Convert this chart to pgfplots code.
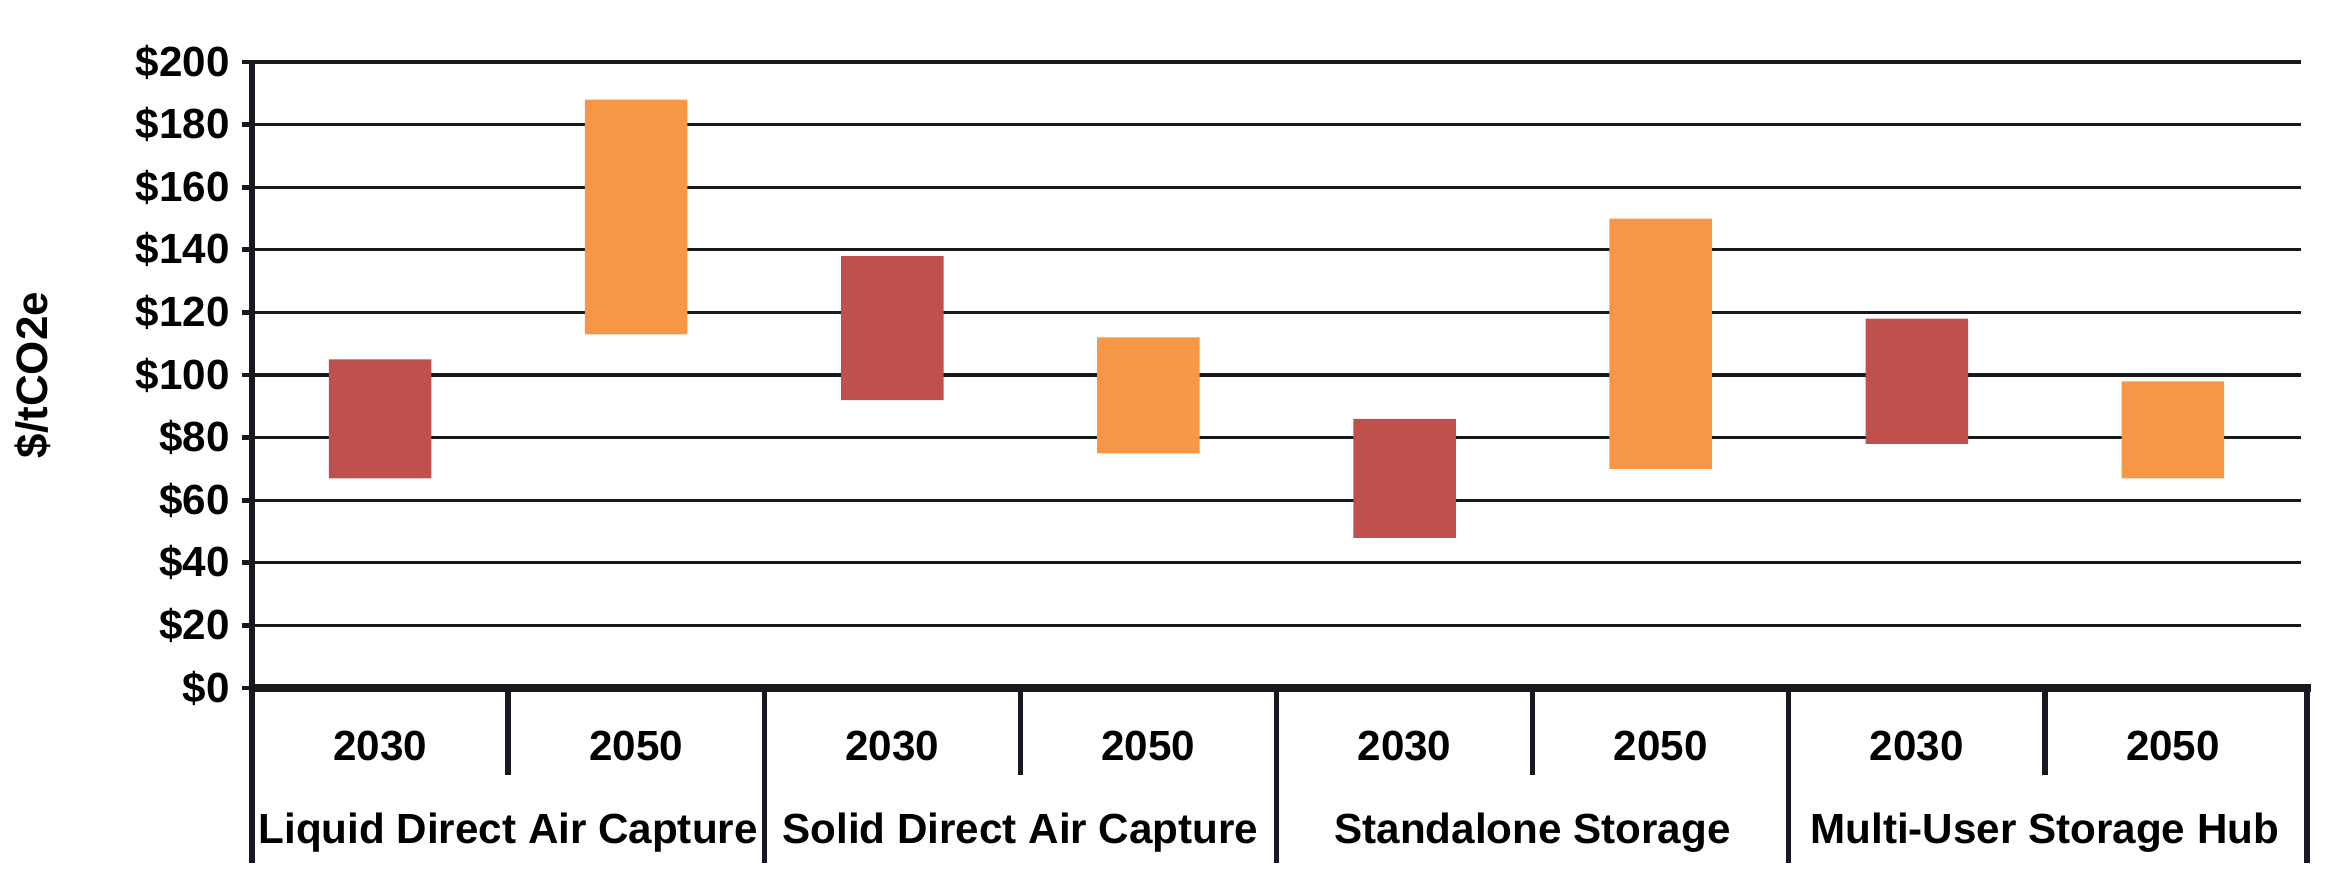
\documentclass[border=0pt]{standalone}
\usepackage{fontspec}
\setmainfont{Liberation Sans}
\usepackage{pgfplots}
\usepackage{pgfplotstable}
\pgfplotsset{compat=1.18}
\definecolor{axcol}{HTML}{18181F}
\definecolor{barred}{HTML}{C0504D}
\definecolor{barorange}{HTML}{F79646}

% x, low end, length of 2030 range, length of 2050 range
\pgfplotstableread{
x    low  len30 len50
0.5  67   38    0
1.5  113  0     75
2.5  92   46    0
3.5  75   0     37
4.5  48   38    0
5.5  70   0     80
6.5  78   40    0
7.5  67   0     31
}\ranges

\begin{document}
\begin{tikzpicture}
\useasboundingbox (0,0) rectangle (23.25cm,8.94cm);
\begin{axis}[
  at={(2.52cm,2.06cm)}, anchor=south west,
  scale only axis, width=20.49cm, height=6.26cm,
  xmin=0, xmax=8, ymin=0, ymax=200,
  clip=false,
  ybar stacked, bar width=0.4,
  axis x line*=bottom, axis y line*=left,
  x axis line style={line width=2.3pt, axcol, shorten >=-0.1cm},
  y axis line style={line width=1.8pt, axcol},
  ytick={0,20,...,200},
  yticklabel={\$\pgfmathprintnumber{\tick}},
  /pgf/number format/assume math mode=true,
  ytick style={line width=1.4pt, axcol},
  tick align=outside,
  ytick pos=left,
  major tick length=1mm,
  xtick={0.5,1.5,2.5,3.5,4.5,5.5,6.5,7.5},
  xticklabels={2030,2050,2030,2050,2030,2050,2030,2050},
  xtick style={draw=none},
  xticklabel style={anchor=center, yshift=-4.8mm},
  extra x ticks={1,3,5,7},
  extra x tick labels={Liquid Direct Air Capture,Solid Direct Air Capture,Standalone Storage,Multi-User Storage Hub},
  extra x tick style={xtick style={draw=none}, xticklabel style={anchor=center, yshift=-8.7mm}},
  tick label style={font=\bfseries\fontsize{12}{14}\selectfont, text=black},
  ymajorgrids=true,
  grid style={line width=0.9pt, axcol},
  ylabel={\$/tCO2e},
  ylabel style={at={(axis description cs:-0.107,0.5)}, anchor=center, font=\bfseries\fontsize{12.5}{14}\selectfont},
]
\addplot[draw=none, fill=none] table[x=x, y=low] {\ranges};
\addplot[draw=none, fill=barred] table[x=x, y=len30] {\ranges};
\addplot[draw=none, fill=barorange] table[x=x, y=len50] {\ranges};

\draw[axcol, line width=1.5pt] (axis cs:0,0) -- ++(0,-1.75cm);
\draw[axcol, line width=1.5pt] (axis cs:2,0) -- ++(0,-1.75cm);
\draw[axcol, line width=1.5pt] (axis cs:4,0) -- ++(0,-1.75cm);
\draw[axcol, line width=1.5pt] (axis cs:6,0) -- ++(0,-1.75cm);
\draw[axcol, line width=1.5pt] ([xshift=0.06cm]axis cs:8,0) -- ++(0,-1.75cm);
\draw[axcol, line width=1.5pt] (axis cs:1,0) -- ++(0,-0.87cm);
\draw[axcol, line width=1.5pt] (axis cs:3,0) -- ++(0,-0.87cm);
\draw[axcol, line width=1.5pt] (axis cs:5,0) -- ++(0,-0.87cm);
\draw[axcol, line width=1.5pt] (axis cs:7,0) -- ++(0,-0.87cm);
\end{axis}
\end{tikzpicture}
\end{document}
